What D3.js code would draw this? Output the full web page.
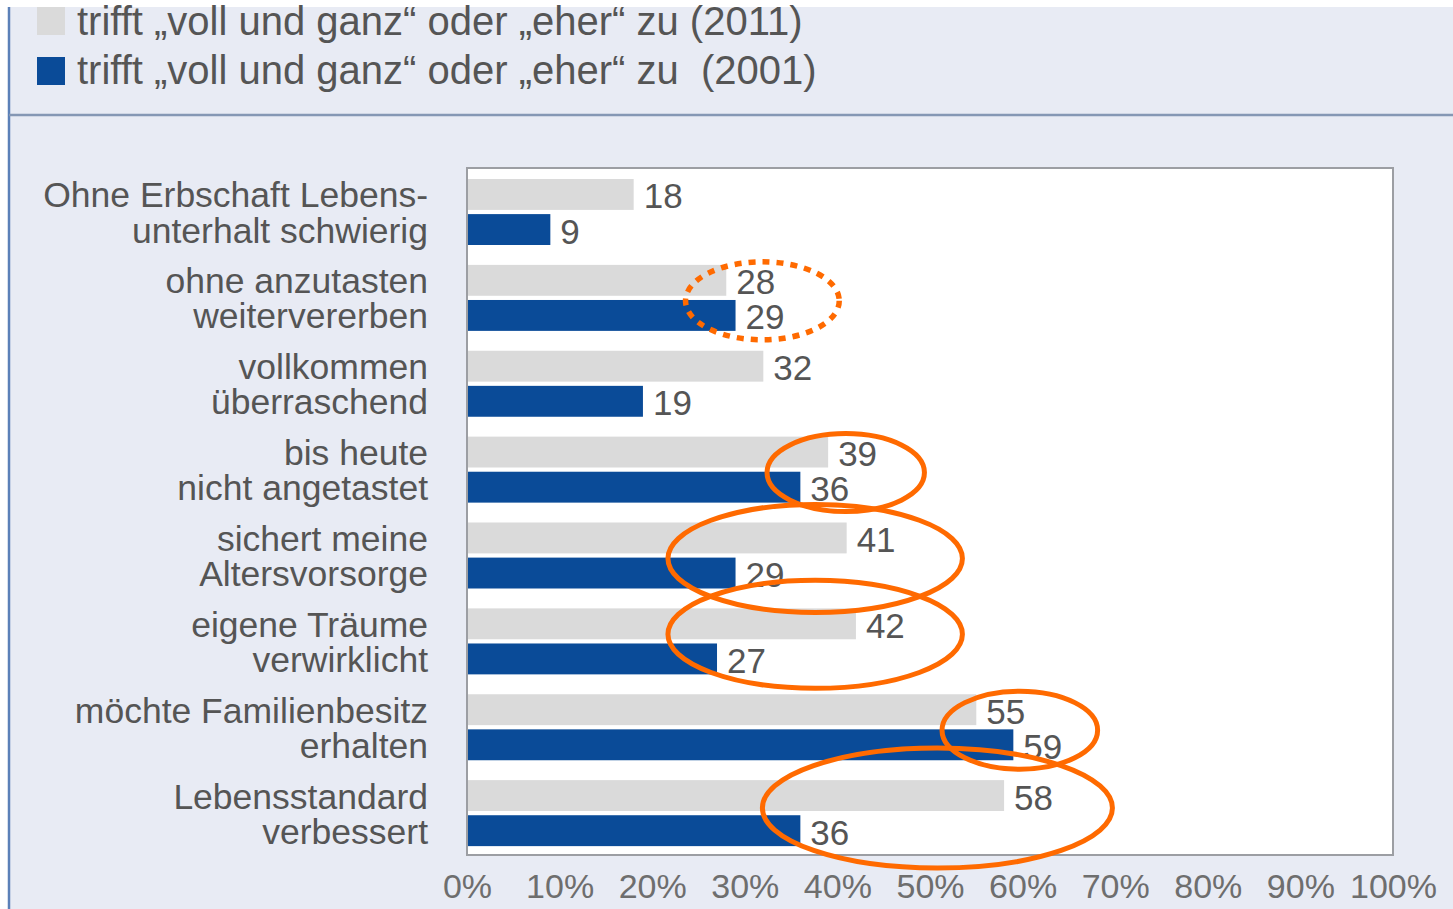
<!DOCTYPE html>
<html>
<head>
<meta charset="utf-8">
<script src="https://cdn.jsdelivr.net/npm/d3@7"></script>
<style>
  body { margin: 0; background: #fff; }
  svg { display: block; font-family: "Liberation Sans", Arial, sans-serif; }
</style>
</head>
<body>
<div id="chart"></div>
<script>
// data
const categories = [
  ['Ohne Erbschaft Lebens-', 'unterhalt schwierig'],
  ['ohne anzutasten', 'weitervererben'],
  ['vollkommen', 'überraschend'],
  ['bis heute', 'nicht angetastet'],
  ['sichert meine', 'Altersvorsorge'],
  ['eigene Träume', 'verwirklicht'],
  ['möchte Familienbesitz', 'erhalten'],
  ['Lebensstandard', 'verbessert']
]
const values2011 = [18, 28, 32, 39, 41, 42, 55, 58]
const values2001 = [9, 29, 19, 36, 29, 27, 59, 36]
const seriesNames = ['trifft „voll und ganz“ oder „eher“ zu (2011)', 'trifft „voll und ganz“ oder „eher“ zu  (2001)']
const tickValues = [0, 10, 20, 30, 40, 50, 60, 70, 80, 90, 100]
// orange marks: category index, centre value (%), half width (%), dotted
const highlights = [
  { cat: 1, at: 31.9, half: 8.3, dotted: true },
  { cat: 3, at: 40.9, half: 8.5 },
  { cat: 4, at: 37.6, half: 15.9 },
  { cat: 5, at: 37.6, half: 15.9 },
  { cat: 6, at: 59.7, half: 8.4 },
  { cat: 7, at: 50.8, half: 18.9 }
]

const W = 1453, H = 909
const svg = d3.select('#chart').append('svg').attr('width', W).attr('height', H)

// panel background
svg.append('rect').attr('x', 9).attr('y', 7).attr('width', W - 9).attr('height', H - 7).attr('fill', '#e8ebf4')
svg.append('line').attr('x1', 9).attr('x2', 9).attr('y1', 7).attr('y2', H)
    .attr('stroke', '#5b80b8').attr('stroke-width', 2.5)
svg.append('line').attr('x1', 9).attr('x2', W).attr('y1', 115).attr('y2', 115)
    .attr('stroke', '#8597b4').attr('stroke-width', 2.5)

const x = d3.scaleLinear().domain([0, 100]).range([467, 1393])
const y = d3.scaleBand().domain(d3.range(categories.length)).range([168, 855])
const ySub = d3.scaleBand().domain(['2011', '2001']).range([11, 77]).paddingInner(0.12)
const colors = { '2011': '#dadada', '2001': '#0a4b98' }

// plot frame
svg.append('rect').attr('x', x(0)).attr('y', 168).attr('width', x(100) - x(0)).attr('height', 855 - 168)
    .attr('fill', '#fff').attr('stroke', '#9c9ea3').attr('stroke-width', 2)

const rows = categories.map((c, i) => ({ i: i, label: c, '2011': values2011[i], '2001': values2001[i] }))

const row = svg.selectAll('.row').data(rows).enter().append('g')
    .attr('class', 'row')
    .attr('transform', d => 'translate(0,' + y(d.i) + ')')

;['2011', '2001'].forEach((s, k) => {
  row.append('rect')
      .attr('x', x(0) + 1)
      .attr('y', ySub(s))
      .attr('width', d => x(d[s]) - x(0) - 1)
      .attr('height', ySub.bandwidth())
      .attr('fill', colors[s])

  row.append('text')
      .attr('x', d => x(d[s]) + 10)
      .attr('y', ySub(s) + ySub.bandwidth() / 2 + 14)
      .attr('font-size', 35)
      .attr('fill', '#555')
      .text(d => d[s])

  row.append('text')
      .attr('x', 428)
      .attr('y', ySub(s) + ySub.bandwidth() / 2 + 13)
      .attr('text-anchor', 'end')
      .attr('font-size', 35.5)
      .attr('fill', '#555')
      .text(d => d.label[k])
})

// x axis
const axis = svg.append('g')
    .attr('transform', 'translate(0,855)')
    .call(d3.axisBottom(x).tickValues(tickValues).tickFormat(d => d + '%').tickSize(0).tickPadding(19))
axis.select('.domain').remove()
axis.selectAll('text').attr('font-size', 34).attr('fill', '#6e6e6e').attr('font-family', '"Liberation Sans", Arial, sans-serif')

// legend
const legend = svg.selectAll('.legend').data(seriesNames).enter().append('g')
    .attr('class', 'legend')
    .attr('transform', (d, i) => 'translate(37,' + (i * 49) + ')')
legend.append('rect').attr('x', 0).attr('width', 28).attr('height', 28)
    .attr('fill', (d, i) => i === 0 ? colors['2011'] : colors['2001'])
    .attr('y', (d, i) => i === 0 ? 7 : 8)
legend.append('text').attr('x', 40).attr('y', 35).attr('font-size', 40).attr('fill', '#555')
    .style('white-space', 'pre').text(d => d)

// orange highlight ellipses
svg.selectAll('.hl').data(highlights).enter().append('ellipse')
    .attr('class', 'hl')
    .attr('cx', d => x(d.at))
    .attr('cy', d => y(d.cat) + y.bandwidth() / 2 + (d.cat === 5 ? -6 : d.cat === 7 ? -4 : 4))
    .attr('rx', d => x(d.half) - x(0))
    .attr('ry', d => d.half > 12 ? (d.cat === 7 ? 60 : 54) : 39)
    .attr('fill', 'none')
    .attr('stroke', '#ff6a00')
    .attr('stroke-width', d => d.dotted ? 5.5 : 5)
    .attr('stroke-dasharray', d => d.dotted ? '7 7' : null)
</script>
</body>
</html>
